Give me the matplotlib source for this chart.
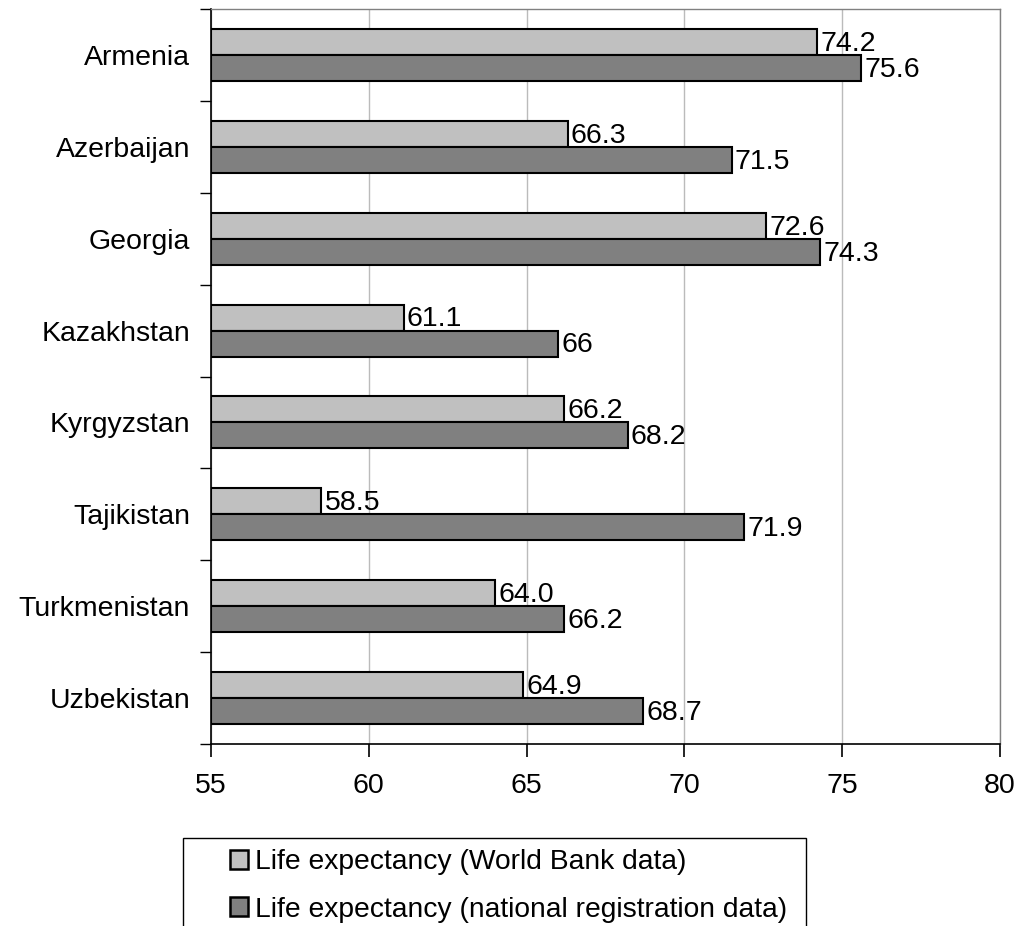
import numpy as np
import matplotlib.pyplot as plt
from matplotlib.patches import Patch, Rectangle

plt.rcParams['font.family'] = ['Liberation Sans', 'DejaVu Sans']

countries = ["Armenia", "Azerbaijan", "Georgia", "Kazakhstan",
             "Kyrgyzstan", "Tajikistan", "Turkmenistan", "Uzbekistan"]
world_bank = [74.2, 66.3, 72.6, 61.1, 66.2, 58.5, 64.0, 64.9]
world_bank_labels = ["74.2", "66.3", "72.6", "61.1", "66.2", "58.5", "64.0", "64.9"]
national = [75.6, 71.5, 74.3, 66.0, 68.2, 71.9, 66.2, 68.7]
national_labels = ["75.6", "71.5", "74.3", "66", "68.2", "71.9", "66.2", "68.7"]
series_names = ["Life expectancy (World Bank data)",
                "Life expectancy (national registration data)"]

light = "#C0C0C0"
dark = "#808080"
fs = 20.5

fig = plt.figure(figsize=(10.21, 9.26), dpi=100)
ax = fig.add_axes([211 / 1021, 1 - 744 / 926, (1000 - 211) / 1021, (744 - 9) / 926])

y = np.arange(len(countries))
h = 0.283
xmin = 55
ax.barh(y - h / 2, np.array(world_bank) - xmin, left=xmin, height=h,
        color=light, edgecolor="black", linewidth=1.5, zorder=3)
ax.barh(y + h / 2, np.array(national) - xmin, left=xmin, height=h,
        color=dark, edgecolor="black", linewidth=1.5, zorder=3)

# value labels
for yi, v, s in zip(y, world_bank, world_bank_labels):
    ax.text(v + 0.1, yi - h / 2 + 0.02, s, va="center", ha="left", fontsize=fs)
for yi, v, s in zip(y, national, national_labels):
    ax.text(v + 0.1, yi + h / 2 + 0.02, s, va="center", ha="left", fontsize=fs)

ax.set_xlim(55, 80)
ax.set_ylim(len(countries) - 0.5, -0.5)
ax.set_xticks([55, 60, 65, 70, 75, 80])
ax.set_yticks(y)
ax.set_yticklabels(countries)
ax.set_yticks(np.arange(-0.5, len(countries)), minor=True)
ax.tick_params(axis="y", which="major", length=0, pad=15, labelsize=fs)
ax.tick_params(axis="y", which="minor", length=8, width=1, direction="out")
ax.tick_params(axis="x", length=9, width=1.2, direction="out", pad=12, labelsize=fs)

ax.grid(axis="x", color="#BBBBBB", linewidth=1, zorder=0)
ax.set_axisbelow(True)
for side in ["top", "right"]:
    ax.spines[side].set_color("#808080")
    ax.spines[side].set_linewidth(1)
for side in ["left", "bottom"]:
    ax.spines[side].set_color("black")
    ax.spines[side].set_linewidth(1.2)

# legend box (runs off the bottom edge like the original)
W, H = 1021, 926
fig.patches.append(Rectangle((183 / W, -0.05), (806 - 183) / W, 0.05 + 1 - 838 / H,
                             transform=fig.transFigure, facecolor="white",
                             edgecolor="black", linewidth=1, zorder=1))
handles = [Patch(facecolor=light, edgecolor="black", linewidth=1.8),
           Patch(facecolor=dark, edgecolor="black", linewidth=1.8)]
leg = fig.legend(handles, series_names,
                 loc="upper left", bbox_to_anchor=(230 / W, 1 - 849 / H),
                 fontsize=20.3, frameon=False,
                 handlelength=0.65, handleheight=0.65,
                 handletextpad=0.22, labelspacing=0.77, borderpad=0,
                 borderaxespad=0)
leg.set_zorder(2)

fig.savefig("out.png", dpi=100)
